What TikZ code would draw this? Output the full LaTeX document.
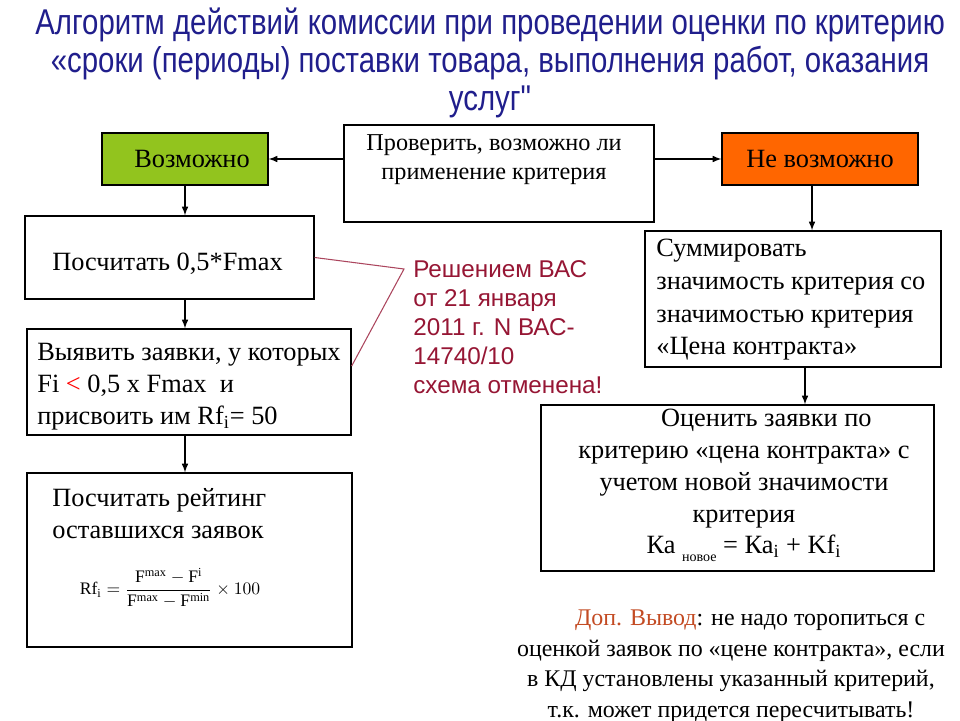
\documentclass[tikz,border=0pt]{standalone}
\usepackage{fontspec}
\setmainfont{Liberation Serif}
\newfontfamily\headfont[FakeStretch=0.82]{Liberation Sans}
\newfontfamily\notefont{Liberation Sans}
\usetikzlibrary{calc, arrows, positioning}
\definecolor{headblue}{RGB}{32,30,140}
\definecolor{okgreen}{RGB}{146,196,30}
\definecolor{noorange}{RGB}{255,102,0}
\definecolor{vasred}{RGB}{150,22,52}
\definecolor{outred}{RGB}{195,75,35}
\tikzset{box/.style={draw, line width=0.8pt, inner sep=0pt},
  arr/.style={-latex, line width=0.7pt},
  txt/.style={inner sep=0pt, align=left, font=\fontsize{15}{18.2}\selectfont}}

\begin{document}
\begin{tikzpicture}[x=0.02cm, y=-0.02cm]
\useasboundingbox (0,0) rectangle (960,720);

% title
\node[inner sep=0pt, align=center, text=headblue, font=\headfont\fontsize{20.4}{21.8}\selectfont] (title) at (490,63)
{Алгоритм действий комиссии при проведении оценки по критерию\\
«сроки (периоды) поставки товара, выполнения работ, оказания\\
услуг"};

% boxes
\node[box, fill=okgreen, minimum width=3.32cm, minimum height=1.04cm, font=\fontsize{15}{18}\selectfont] (yes) at (185,159) {\hspace*{8pt}Возможно};
\node[box, minimum width=6.2cm, minimum height=1.94cm] (check) at (499,173.5) {};
\node[box, fill=noorange, minimum width=3.92cm, minimum height=1.04cm, font=\fontsize{15}{18}\selectfont] (no) at (820,159) {Не возможно};
\node[box, minimum width=5.78cm, minimum height=1.66cm] (half) at (169.5,257.5) {};
\node[box, minimum width=6.48cm, minimum height=2.12cm] (low) at (189,382) {};
\node[box, minimum width=6.5cm, minimum height=3.48cm] (rate) at (189.5,560) {};
\node[box, minimum width=5.92cm, minimum height=2.72cm] (sum) at (793,299) {};
\node[box, minimum width=7.86cm, minimum height=3.32cm] (price) at (737.5,488) {};

% texts in the boxes
\node[txt, align=center, font=\fontsize{13.8}{16.4}\selectfont] (checktxt) at (494,159.5)
{Проверить, возможно ли\\ применение критерия};
\node[txt, anchor=west] (halftxt) at (52,264) {Посчитать 0,5*Fmax};
\node[txt, anchor=west] (lowtxt) at (37,387)
{Выявить заявки, у которых\\ Fi {\color{red}<} 0,5 x Fmax\ \ и\\ присвоить им Rf\textsubscript{i}= 50};
\node[txt, anchor=west] (ratetxt) at (52,514) {Посчитать рейтинг\\ оставшихся заявок};
\node[inner sep=0pt, font=\fontsize{10}{12}\selectfont] (formula) at (170,588)
{$\mathrm{Rf}_{\mathrm{i}}=\displaystyle\frac{\mathrm{F}^{\mathrm{max}}-\mathrm{F}^{\mathrm{i}}}{\mathrm{F}^{\mathrm{max}}-\mathrm{F}^{\mathrm{min}}}\times 100$};
\node[txt, anchor=west, font=\fontsize{15}{18.6}\selectfont] (sumtxt) at (656,300)
{Суммировать\\ значимость критерия со\\ значимостью критерия\\ «Цена контракта»};
\node[txt, align=center] (pricetxt) at (744,485)
{\hspace*{1.7em}Оценить заявки по\\ критерию «цена контракта» с\\ учетом новой значимости\\ критерия\hspace*{0.7em}\\
Ка {\raisebox{-0.6ex}{\fontsize{8}{9}\selectfont новое}} = Ка\textsubscript{i} + Kf\textsubscript{i}};

% red note
\node[txt, anchor=west, text=vasred, font=\notefont\fontsize{13.8}{16.6}\selectfont] (vas) at (413,327)
{Решением ВАС\\ от 21 января\\ 2011 г. N ВАС-\\ 14740/10\\ схема отменена!};
\coordinate (bend) at (404,269);
\draw[vasred!80, line width=0.6pt] (half.east) -- (bend) -- ($(low.east)+(0,-16)$);

% conclusion
\node[txt, align=center, font=\fontsize{13.6}{17.4}\selectfont] (outtxt) at (731,666)
{\hspace*{1.6em}{\color{outred}Доп. Вывод}: не надо торопиться с\\ оценкой заявок по «цене контракта», если\\ в КД установлены указанный критерий,\\ т.к. может придется пересчитывать!};

% arrows
\draw[arr] (check.west |- yes) -- (yes.east);
\draw[arr] (check.east |- no) -- (no.west);
\draw[arr] (yes.south) -- (yes.south |- half.north);
\draw[arr] (half.south -| yes.south) -- (yes.south |- low.north);
\draw[arr] (low.south -| yes.south) -- (yes.south |- rate.north);
\draw[arr] ([xshift=-0.16cm]no.south) -- ([xshift=-0.16cm]no.south |- sum.north);
\draw[arr] ([xshift=0.24cm]sum.south) -- ([xshift=0.24cm]sum.south |- price.north);

\end{tikzpicture}
\end{document}
